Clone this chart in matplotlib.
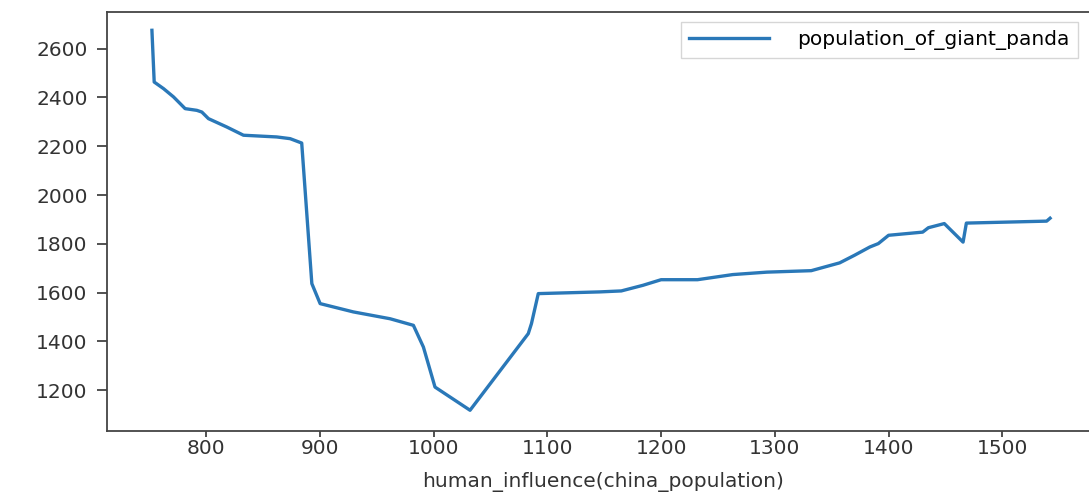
import matplotlib
matplotlib.use('Agg')
import matplotlib.pyplot as plt

# values
china_population = [752.3, 754.3, 762.5, 771.3, 781.5, 791.8, 796.2, 802, 818, 832.8,
                    862, 873.8, 884, 892.9, 900.2, 929.4, 961.7, 982.2, 991, 1001.2,
                    1032, 1083.2, 1086, 1092, 1146, 1165, 1184, 1200, 1232, 1263,
                    1293, 1332, 1357, 1370, 1383.5, 1391, 1400, 1430, 1435, 1449,
                    1465.5, 1468.4, 1539, 1542]
giant_panda = [2675, 2463, 2436, 2402, 2354, 2347, 2340, 2313, 2279, 2245,
               2238, 2231, 2213, 1637, 1555, 1521, 1493, 1466, 1377, 1213,
               1118, 1432, 1473, 1596, 1603, 1607, 1630, 1653, 1653, 1674,
               1684, 1690, 1722, 1753, 1787, 1801, 1835, 1848, 1866, 1883,
               1807, 1885, 1893, 1905]
xticks = [800, 900, 1000, 1100, 1200, 1300, 1400, 1500]
yticks = [1200, 1400, 1600, 1800, 2000, 2200, 2400, 2600]

W, H = 1089, 498
fig = plt.figure(figsize=(W / 100, H / 100), dpi=100)
# right spine sits just past the right edge of the picture (cropped in the reference)
ax = fig.add_axes([107 / W, 1 - 431 / H, (1100 - 107) / W, (431 - 12) / H])
ax.spines['right'].set_visible(False)

ax.plot(china_population, giant_panda, color='#2a78b8', linewidth=2.4,
        label='population_of_giant_panda')

# keep the same scale as the reference even with the axes box a bit wider
ax.set_xlim(712.8, 712.8 + (1581.5 - 712.8) * (1100 - 107) / (1095 - 107))
ax.set_ylim(1033, 2750)
ax.set_xticks(xticks)
ax.set_yticks(yticks)

fs = 14.5
ax.tick_params(axis='y', length=7, width=1.2, pad=7, labelsize=fs, colors='#333333')
ax.tick_params(axis='x', length=4.5, width=1.2, pad=1.5, labelsize=fs, colors='#333333')
for s in ax.spines.values():
    s.set_linewidth(1.3)
    s.set_color('#444444')

ax.set_xlabel('human_influence(china_population)', fontsize=fs, color='#333333', labelpad=10)

ax.legend(loc='upper right', bbox_to_anchor=(1078 / W, 1 - 22 / H),
          bbox_transform=fig.transFigure, borderaxespad=0, fontsize=fs,
          handlelength=4.0, handletextpad=1.4, fancybox=False, edgecolor='#cccccc')

fig.savefig('out.png', dpi=100)
